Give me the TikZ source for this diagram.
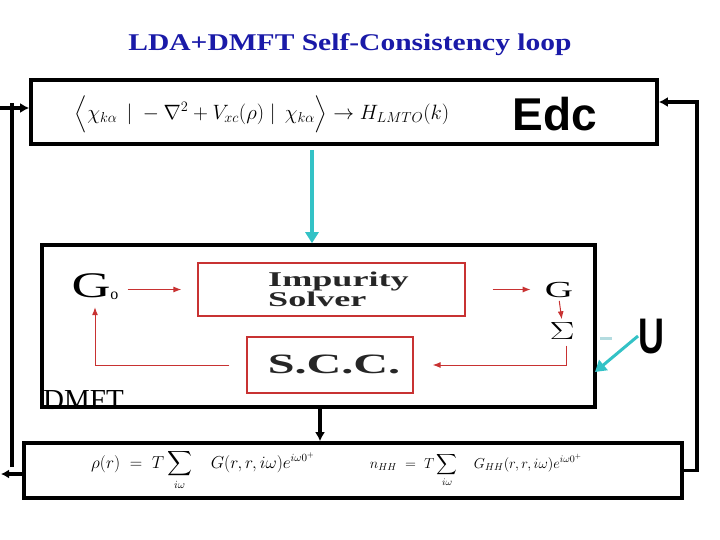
\documentclass[tikz,border=0pt]{standalone}
\usepackage{amsmath}
\usepackage{fontspec}
\setmainfont{Liberation Serif}
\setsansfont{Liberation Sans}
\usetikzlibrary{arrows.meta}
\definecolor{ttl}{HTML}{1A1AA8}
\definecolor{rd}{HTML}{C83232}
\definecolor{cy}{HTML}{33C2C6}
\definecolor{cyl}{HTML}{B4DCE0}
\tikzset{
  bigbox/.style={draw=black, line width=3.6pt, inner sep=0pt},
  redbox/.style={draw=rd, line width=1.2pt, inner sep=0pt},
  blk/.style={draw=black, line width=3.6pt},
  blkarr/.style={blk, -{Latex[length=9pt,width=10pt]}},
  ra/.style={draw=rd, line width=1pt, -{Latex[length=8pt,width=6pt]}},
  cyarr/.style={draw=cy, line width=3.6pt, -{Triangle[length=11pt,width=13pt]}},
}
\begin{document}
\begin{tikzpicture}[x=1pt,y=-1pt]
\useasboundingbox (0,0) rectangle (720,540);
% title
\node[text=ttl, font=\bfseries\fontsize{24}{26}\selectfont] (title) at (350,45) {\scalebox{1.23}[1]{LDA+DMFT Self-Consistency loop}};
% top box
\node[bigbox, minimum width=626pt, minimum height=64pt] (top) at (344,112) {};
\node[font=\fontsize{21}{24}\selectfont] (hform) at (262,114)
  {$\Big\langle \chi_{k\alpha}\;\,|\;-\nabla^2+V_{xc}(\rho)\;|\;\,\chi_{k\alpha}\Big\rangle \rightarrow H_{LMTO}(k)$};
\node[font=\sffamily\bfseries\fontsize{46}{50}\selectfont] (edc) at (555,114) {Edc};
% DMFT label (under the box line)
\node[anchor=base west, inner sep=0pt, font=\fontsize{29}{30}\selectfont] (dlabel) at (43,409) {DMFT};
% DMFT box
\node[bigbox, minimum width=553pt, minimum height=162pt] (dmft) at (318.5,326) {};
% bottom box
\node[bigbox, minimum width=658pt, minimum height=55pt] (bot) at (353,470.5) {};
\node[font=\fontsize{16}{18}\selectfont] (rho) at (203,470) {$\rho(r) \;=\; T\displaystyle\sum_{i\omega}\quad G(r,r,i\omega)e^{i\omega0^+}$};
\node[font=\fontsize{14}{18}\selectfont] (nhh) at (476,470) {$n_{HH} \;=\; T\displaystyle\sum_{i\omega}\quad G_{HH}(r,r,i\omega)e^{i\omega0^+}$};
% inner DMFT loop
\node[font=\fontsize{36}{36}\selectfont, inner sep=1pt] (g0) at (95,287) {\scalebox{1.5}[1]{G}\raisebox{-2pt}{\fontsize{16}{16}\selectfont o}};
\node[redbox, minimum width=267pt, minimum height=53pt] (imp) at (331.5,289.5) {};
\node[anchor=west, align=left, inner sep=0pt, font=\bfseries\fontsize{21}{18}\selectfont, text=black!85] (imptxt) at (268,289)
  {\scalebox{1.72}[1]{Impurity}\\\scalebox{1.72}[1]{Solver}};
\node[redbox, minimum width=166pt, minimum height=56pt] (scc) at (330,365) {};
\node[font=\bfseries\fontsize{28}{28}\selectfont, text=black!85] (scctxt) at (334,364) {\scalebox{1.72}[1]{S.C.C.}};
\node[font=\fontsize{23}{23}\selectfont, inner sep=1pt] (g) at (559,290) {\scalebox{1.7}[1]{G}};
\node[font=\fontsize{24}{24}\selectfont, inner sep=1pt] (sig) at (562,331) {\scalebox{1.5}[1]{$\Sigma$}};
\draw[ra, shorten <=8pt, shorten >=16pt] (g0.east |- imp.west) -- (imp.west);
\draw[ra, shorten <=27pt, shorten >=13pt] (imp.east) -- (imp.east -| g.west);
\draw[ra, shorten <=2pt, shorten >=2pt] (g.south) -- (sig.north);
\draw[ra, shorten <=5pt, shorten >=19pt] ([xshift=4pt]sig.south) |- (scc.east);
\draw[ra, shorten <=17pt, shorten >=6pt] (scc.west) -| (g0.south);
% connectors between boxes
\coordinate (cx) at (312,0);
\draw[cyarr] (top.south -| cx) ++(0,4) -- (dmft.north -| cx);
\coordinate (bx) at (320,0);
\draw[blkarr] (dmft.south -| bx) -- (bot.north -| bx);
% U
\node[font=\sffamily\bfseries\fontsize{50}{50}\selectfont, inner sep=0pt] (u) at (651,337) {\scalebox{0.72}[1]{U}};
\coordinate (ustart) at (638,336);
\coordinate (uend) at (595,372);
\draw[cyarr, line width=3pt] (ustart) -- (uend);
\draw[cyl, line width=3pt] (600,338) -- (612,338);
% outer loop
\coordinate (lft) at (12,0);
\coordinate (lin) at (0,108);
\draw[blkarr, -{Latex[length=8pt,width=9pt]}] (bot.west |- 0,474) -- (1,474);
\draw[blk] (12,467) -- (12,103);
\draw[blkarr] (lin) -- (top.west |- lin);
\coordinate (rx) at (697,0);
\coordinate (ry) at (0,102);
\draw[blkarr] (bot.east) -- (bot.east -| rx) -- (rx |- ry) -- (top.east |- ry);
\end{tikzpicture}
\end{document}
